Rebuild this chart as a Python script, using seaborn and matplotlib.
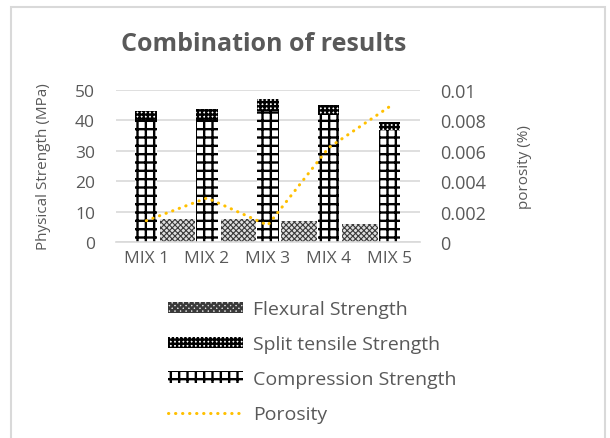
import numpy as np
import pandas as pd
import matplotlib
matplotlib.use("Agg")
import matplotlib.pyplot as plt
import seaborn as sns
from matplotlib.patches import Rectangle

# data
mixes = ["MIX 1", "MIX 2", "MIX 3", "MIX 4", "MIX 5"]
compression = [40.0, 40.0, 43.1, 41.8, 36.9]
split_tensile = [3.1, 3.8, 4.1, 3.3, 2.7]
flexural = [7.7, 7.6, 6.8, 5.9, np.nan]
porosity = [0.0014, 0.0029, 0.0011, 0.0062, 0.0089]

sns.set_theme(style="white")
plt.rcParams["font.family"] = ["Open Sans", "DejaVu Sans"]
plt.rcParams["hatch.linewidth"] = 1.7

grey = "#595959"

df = pd.DataFrame({
    "mix": mixes,
    "compression": compression,
    "split": split_tensile,
    "flexural": flexural,
    "porosity": porosity,
})
df["total"] = df["compression"] + df["split"]

fig = plt.figure(figsize=(6.1, 4.39), dpi=100)
ax = fig.add_axes([0.190, 0.4465, 0.498, 0.346])

# split tensile sits on top of compression, so draw the total first
sns.barplot(data=df, x="mix", y="total", color="white", saturation=1,
            edgecolor="black", hatch="++++", linewidth=0, width=0.355,
            label="Split tensile Strength", ax=ax)
sns.barplot(data=df, x="mix", y="compression", color="white", saturation=1,
            edgecolor="black", hatch="++", linewidth=0, width=0.355,
            label="Compression Strength", ax=ax)
xpos = np.arange(len(mixes))
flex = ax.bar(xpos + 0.515, df["flexural"], width=0.585, color="#e0e0e0",
              edgecolor="#3a3a3a", hatch="xxxxxx", linewidth=0,
              label="Flexural Strength")
for p in flex:
    if hasattr(p, "set_hatch_linewidth"):
        p.set_hatch_linewidth(0.8)
if ax.get_legend() is not None:
    ax.get_legend().remove()

ax.set_xlim(-0.5, 4.5)
ax.set_ylim(0, 50)
ax.set_yticks([0, 10, 20, 30, 40, 50])
ax.yaxis.grid(True, color="#d9d9d9", linewidth=1.2)
ax.set_axisbelow(True)
for s in ["top", "left", "right"]:
    ax.spines[s].set_visible(False)
ax.spines["bottom"].set_color("#d9d9d9")
ax.spines["bottom"].set_linewidth(1.2)
ax.tick_params(axis="both", length=0, labelsize=12.5, labelcolor=grey)
ax.tick_params(axis="y", pad=15)
ax.tick_params(axis="x", pad=6)
ax.set_xlabel("")
ax.set_ylabel("Physical Strength (MPa)", fontsize=11, color=grey)
ax.yaxis.set_label_coords(-0.215, 0.5)

ax2 = ax.twinx()
sns.lineplot(x=xpos, y=df["porosity"], ax=ax2, color="#ffc000",
             linewidth=2.2, linestyle=(0, (0.1, 2.2)),
             dash_capstyle="round", label="Porosity", legend=False)
ax2.set_ylim(0, 0.01)
ticks2 = [0, 0.002, 0.004, 0.006, 0.008, 0.01]
ax2.set_yticks(ticks2)
ax2.set_yticklabels([f"{t:g}" for t in ticks2])
for s in ax2.spines.values():
    s.set_visible(False)
ax2.tick_params(axis="y", length=0, labelsize=13, labelcolor=grey, pad=15)
ax2.set_ylabel("porosity (%)", fontsize=11, color=grey)
ax2.yaxis.set_label_coords(1.32, 0.5)

fig.suptitle("Combination of results", x=0.433, y=0.928, fontsize=18,
             fontweight="bold", color=grey)

h1, l1 = ax.get_legend_handles_labels()
h2, l2 = ax2.get_legend_handles_labels()
lookup = dict(zip(l1 + l2, h1 + h2))
order = ["Flexural Strength", "Split tensile Strength",
         "Compression Strength", "Porosity"]
fig.legend([lookup[k] for k in order], order, loc="upper left",
           bbox_to_anchor=(0.262, 0.332), frameon=False, fontsize=14,
           labelcolor=grey, handlelength=3.9, handleheight=0.5,
           handletextpad=0.5, labelspacing=0.87, borderaxespad=0)

# light chart-area border
fig.patches.append(Rectangle((0.018, -0.02), 0.974, 1.002,
                             transform=fig.transFigure, fill=False,
                             edgecolor="#d9d9d9", linewidth=1.5))

fig.savefig("out.png", dpi=100)
